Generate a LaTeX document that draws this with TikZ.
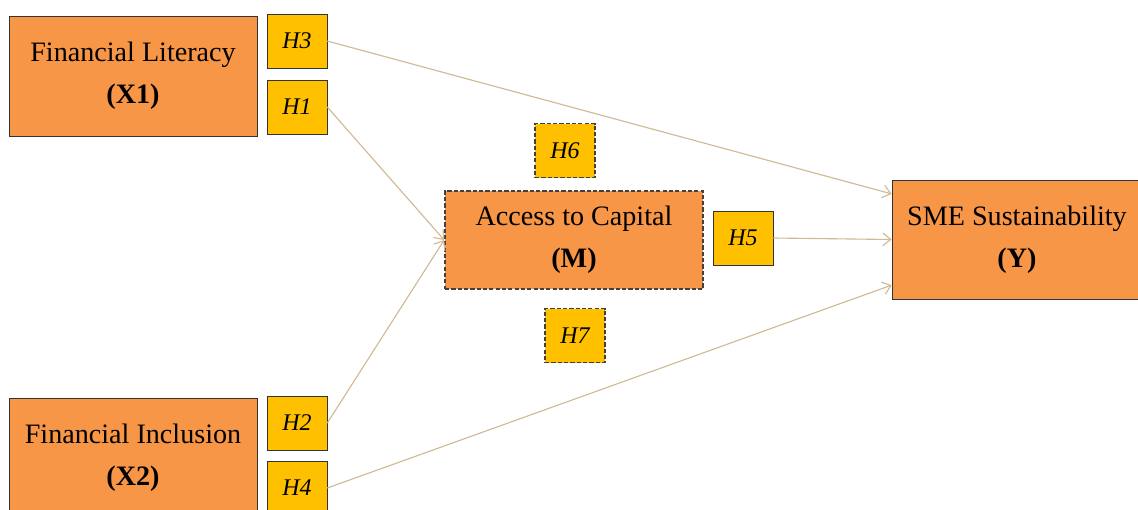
\documentclass[tikz,border=0pt]{standalone}
\usepackage{fontspec}
\setmainfont{Liberation Serif}
\usetikzlibrary{arrows.meta}

\definecolor{varorange}{HTML}{F79646}
\definecolor{hypyellow}{HTML}{FFC000}
\definecolor{pathtan}{RGB}{208,185,148}

\begin{document}
\begin{tikzpicture}[x=0.025cm, y=-0.025cm,
	var/.style={draw=black!80, fill=varorange, align=center, inner sep=0pt, font=\fontsize{20}{30}\selectfont},
	hyp/.style={draw=black!80, fill=hypyellow, minimum width=1.5cm, minimum height=1.35cm, inner sep=0pt, font=\fontsize{17}{20}\selectfont\itshape},
	indirect/.style={dash pattern=on 3pt off 1.5pt, draw=black!75, line width=1.1pt},
	path/.style={draw=pathtan, thick, -{Straight Barb[length=2mm, width=3.2mm]}}]
	\useasboundingbox (0,0) rectangle (1138,509);
	\clip (0,0) rectangle (1138,509);
	\node[var, minimum width=6.2cm, minimum height=3cm] (x1) at (133,76) {Financial Literacy\\\textbf{(X1)}};
	\node[var, minimum width=6.2cm, minimum height=3cm] (x2) at (133,458) {Financial Inclusion\\\textbf{(X2)}};
	\node[var, indirect, minimum width=6.45cm, minimum height=2.45cm] (m) at (574,240) {Access to Capital\\\textbf{(M)}};
	\node[var, minimum width=6.25cm, minimum height=2.98cm] (y) at (1017,239.5) {SME Sustainability\\\textbf{(Y)}};
	\node[hyp] (h3) at (297,41) {H3};
	\node[hyp] (h1) at (297,107) {H1};
	\node[hyp] (h2) at (297,423) {H2};
	\node[hyp] (h4) at (297,488) {H4};
	\node[hyp] (h5) at (743,238) {H5};
	\node[hyp, indirect] (h6) at (565,150.5) {H6};
	\node[hyp, indirect] (h7) at (575,335.5) {H7};
	\draw[path] (h3.east) -- (y.160);
	\draw[path] (h1.east) -- (m.west);
	\draw[path] (h2.east) -- (m.west);
	\draw[path] (h5.east) -- (y.west);
	\draw[path] (h4.east) -- (y.200);
\end{tikzpicture}
\end{document}
